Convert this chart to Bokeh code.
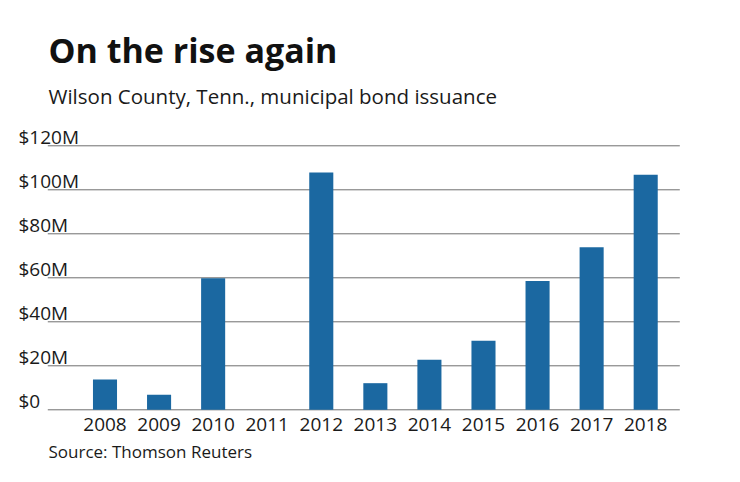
from bokeh.plotting import figure
from bokeh.models import Range1d
from bokeh.core.properties import value
from bokeh.embed import file_html
from bokeh.resources import INLINE

years = [2008, 2009, 2010, 2011, 2012, 2013, 2014, 2015, 2016, 2017, 2018]
issuance = [13.8, 6.8, 59.8, 0.0, 107.9, 12.1, 22.7, 31.4, 58.6, 73.9, 106.8]  # $M
y_ticks = [0, 20, 40, 60, 80, 100, 120]
y_tick_labels = ["$0", "$20M", "$40M", "$60M", "$80M", "$100M", "$120M"]
x_tick_labels = [str(y) for y in years]

title_text = "On the rise again"
subtitle_text = "Wilson County, Tenn., municipal bond issuance"
source_text = "Source: Thomson Reuters"

FONT = value("Open Sans")
BAR = "#1b68a1"
GRID = "#6e6e6e"
TXT = "#1a1a1a"

W, H = 740, 482
# layout: pixel scale of the plot (frame covers the whole canvas)
PX_PER_YEAR = 54.07
X0_PX = 104.5          # pixel of first year's centre
PX_PER_M = 2.2
Y0_PX = 409.3          # pixel of $0 line

x_start = years[0] - X0_PX / PX_PER_YEAR
x_end = x_start + W / PX_PER_YEAR
y_end = Y0_PX / PX_PER_M
y_start = -(H - Y0_PX) / PX_PER_M


def sx(px):
    return x_start + px / PX_PER_YEAR


def sy(py):
    return (Y0_PX - py) / PX_PER_M


p = figure(width=W, height=H, output_backend="svg", toolbar_location=None,
           x_range=Range1d(x_start, x_end), y_range=Range1d(y_start, y_end),
           min_border=0)
p.axis.visible = False
p.grid.visible = False
p.outline_line_color = None
p.background_fill_color = "white"
p.border_fill_color = "white"

# gridlines
p.segment(x0=[sx(47.3)] * len(y_ticks), x1=[sx(679.3)] * len(y_ticks),
          y0=y_ticks, y1=y_ticks, line_color=GRID, line_width=1)

# bars
p.vbar(x=years, top=issuance, bottom=0, width=0.445, fill_color=BAR,
       line_color=None)

# y tick labels (sit just above their gridline)
p.text(x=[sx(18)] * len(y_ticks), y=y_ticks, text=y_tick_labels, y_offset=-9,
       text_align="left", text_baseline="middle", text_font=FONT,
       text_font_size="19px", text_color=TXT)

# x tick labels
p.text(x=years, y=[sy(423.7)] * len(years), text=x_tick_labels,
       text_align="center", text_baseline="middle", text_font=FONT,
       text_font_size="19px", text_color=TXT)

# title, subtitle, source
p.text(x=[sx(48)], y=[sy(49.5)], text=[title_text], text_align="left",
       text_baseline="middle", text_font=FONT, text_font_size="34px",
       text_font_style="bold", text_color="#111111")
p.text(x=[sx(48)], y=[sy(95)], text=[subtitle_text], text_align="left",
       text_baseline="middle", text_font=FONT, text_font_size="20.5px",
       text_color=TXT)
p.text(x=[sx(48)], y=[sy(451)], text=[source_text], text_align="left",
       text_baseline="middle", text_font=FONT, text_font_size="17px",
       text_color=TXT)

open("out.html", "w").write(file_html(p, INLINE))
